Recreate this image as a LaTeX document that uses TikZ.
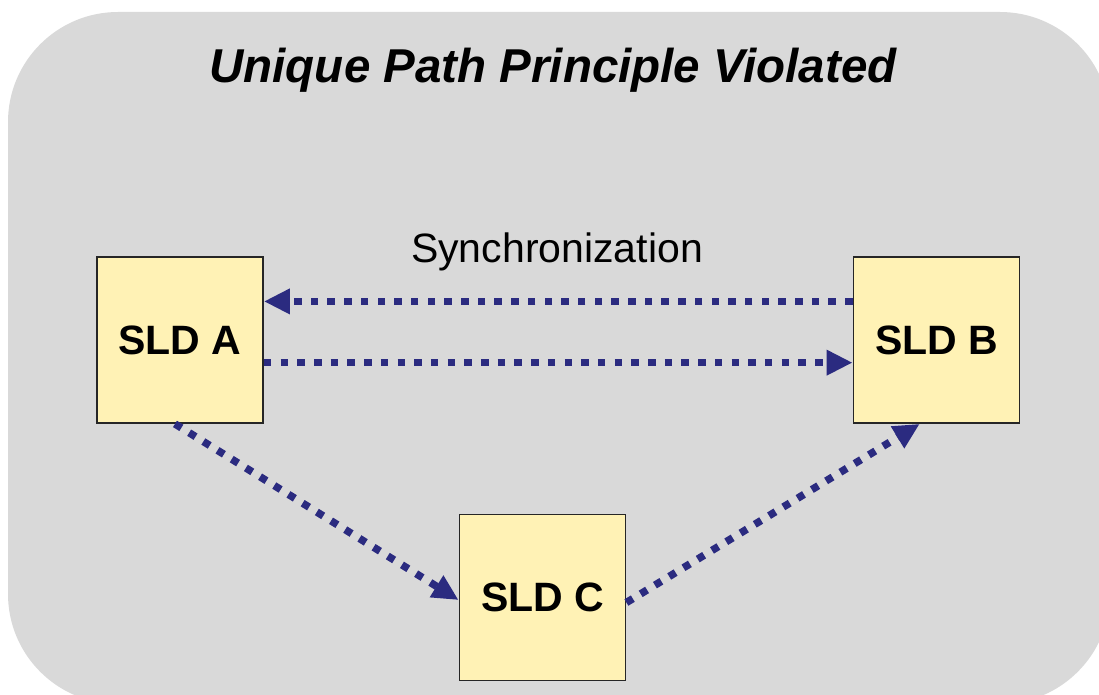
\documentclass[tikz,border=0pt]{standalone}
\usepackage{fontspec}
\setmainfont{Liberation Sans}
\usetikzlibrary{arrows.meta,calc}
\definecolor{bggray}{HTML}{D9D9D9}
\definecolor{boxfill}{HTML}{FFF2B5}
\definecolor{boxline}{HTML}{262626}
\definecolor{arrowblue}{HTML}{2B2B80}
\tikzset{
  sldbox/.style={draw=boxline, fill=boxfill, line width=1.8pt, minimum width=166pt, minimum height=166pt, inner sep=0pt, font=\fontsize{41}{45}\selectfont\bfseries},
  syncarrow/.style={draw=arrowblue, line width=7.5pt, dash pattern=on 7.5pt off 9.2pt, -{Triangle[length=26pt,width=24pt]}},
  titletext/.style={font=\fontsize{47.5}{52}\selectfont\bfseries\itshape, inner sep=0pt, anchor=base},
  labeltext/.style={font=\fontsize{41}{45}\selectfont, inner sep=0pt, anchor=base}
}
\begin{document}
\begin{tikzpicture}[x=1pt,y=-1pt]
\useasboundingbox (0,0) rectangle (1099,695);
\begin{scope}
\clip (0,0) rectangle (1099,695);
\fill[bggray, rounded corners=110pt] (8,12) rectangle (1110,704);
\end{scope}
\node[titletext] (title) at (553,83) {Unique Path Principle Violated};
\node[labeltext] (sync) at (557,262) {Synchronization};
\node[sldbox] (A) at (180,340) {SLD A};
\node[sldbox] (B) at (936.5,340) {SLD B};
\node[sldbox] (C) at (542.5,597.5) {SLD C};
\draw[syncarrow] ($(B.north west)!0.27!(B.south west)$) -- ($(A.north east)!0.27!(A.south east)$);
\draw[syncarrow] ($(A.north east)!0.635!(A.south east)$) -- ($(B.north west)!0.635!(B.south west)$);
\draw[syncarrow] ($(A.south west)!0.47!(A.south east)$) -- ($(C.north west)!0.515!(C.south west)$);
\draw[syncarrow] ($(C.north east)!0.53!(C.south east)$) -- ($(B.south west)!0.40!(B.south east)$);
\end{tikzpicture}
\end{document}
